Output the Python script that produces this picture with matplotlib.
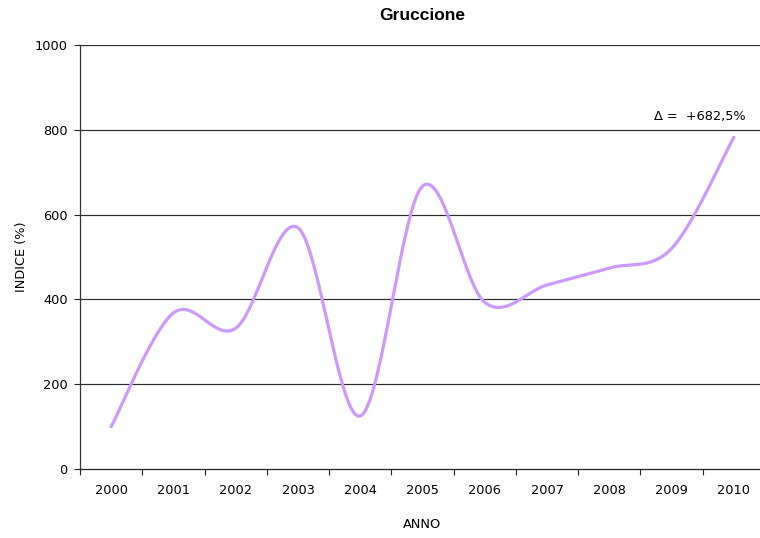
import numpy as np
import matplotlib
matplotlib.use("Agg")
import matplotlib.pyplot as plt
from matplotlib.ticker import FixedLocator

# Annual index values (%), base year 2000 = 100
years = ["2000", "2001", "2002", "2003", "2004", "2005",
         "2006", "2007", "2008", "2009", "2010"]
indice = [100, 368, 332, 569, 125, 667, 393, 434, 474, 520, 782.5]
y_ticks = [0, 200, 400, 600, 800, 1000]
title = "Gruccione"
delta_label = "Δ =  +682,5%"


def smooth_curve(xs, ys, n=40):
    """Cubic Bezier smoothing through every point (Catmull-Rom style)."""
    xs = np.asarray(xs, float)
    ys = np.asarray(ys, float)
    px = np.concatenate([[xs[0]], xs, [xs[-1]]])
    py = np.concatenate([[ys[0]], ys, [ys[-1]]])
    out_x, out_y = [], []
    t = np.linspace(0, 1, n)
    for i in range(1, len(px) - 2):
        p0 = np.array([px[i], py[i]])
        p3 = np.array([px[i + 1], py[i + 1]])
        c1 = p0 + (np.array([px[i + 1], py[i + 1]]) - np.array([px[i - 1], py[i - 1]])) / 6
        c2 = p3 - (np.array([px[i + 2], py[i + 2]]) - np.array([px[i], py[i]])) / 6
        b = ((1 - t) ** 3)[:, None] * p0 + (3 * (1 - t) ** 2 * t)[:, None] * c1 \
            + (3 * (1 - t) * t ** 2)[:, None] * c2 + (t ** 3)[:, None] * p3
        out_x.extend(b[:, 0])
        out_y.extend(b[:, 1])
    return np.array(out_x), np.array(out_y)


W, H = 760, 538
FS = 9.3
fig = plt.figure(figsize=(W / 100, H / 100), dpi=100)
ax = fig.add_axes([80 / W, (H - 469) / H, 685 / W, 424 / H])

x = np.arange(len(years))
sx, sy = smooth_curve(x, indice)
ax.plot(sx, sy, color="#CC99FF", lw=2.3, solid_capstyle="round", zorder=3)

ax.set_xlim(-0.5, len(years) - 0.5)
ax.set_ylim(0, 1000)

# Gridlines
for v in y_ticks[1:]:
    ax.axhline(v, color="#2a2a2a", lw=0.85, zorder=1)

ax.set_yticks(y_ticks)
ax.set_yticklabels([str(v) for v in y_ticks])
ax.set_xticks(x)
ax.set_xticklabels(years)
ax.xaxis.set_minor_locator(FixedLocator(np.arange(-0.5, len(years), 1.0)))

ax.tick_params(axis="x", which="major", length=0, pad=11, labelsize=FS)
ax.tick_params(axis="x", which="minor", length=4, width=0.8, direction="out", color="#222222")
ax.tick_params(axis="y", which="major", length=4, width=0.8, pad=5, labelsize=FS, color="#222222")

for s in ["top", "right"]:
    ax.spines[s].set_visible(False)
ax.spines["left"].set_color("#333333")
ax.spines["left"].set_linewidth(0.9)
ax.spines["bottom"].set_color("#222222")
ax.spines["bottom"].set_linewidth(0.9)

ax.text(9.46, indice[-1] + 48, delta_label, ha="center", va="center", fontsize=FS)

fig.text(422 / W, 1 - 16 / H, title, ha="center", va="center", fontsize=12.5,
         fontweight="bold", family="Liberation Sans")
fig.text(21 / W, 1 - 257 / H, "INDICE (%)", ha="center", va="center", rotation=90, fontsize=FS)
fig.text(422 / W, 1 - 524 / H, "ANNO", ha="center", va="center", fontsize=FS)

fig.savefig("out.png", dpi=100)
